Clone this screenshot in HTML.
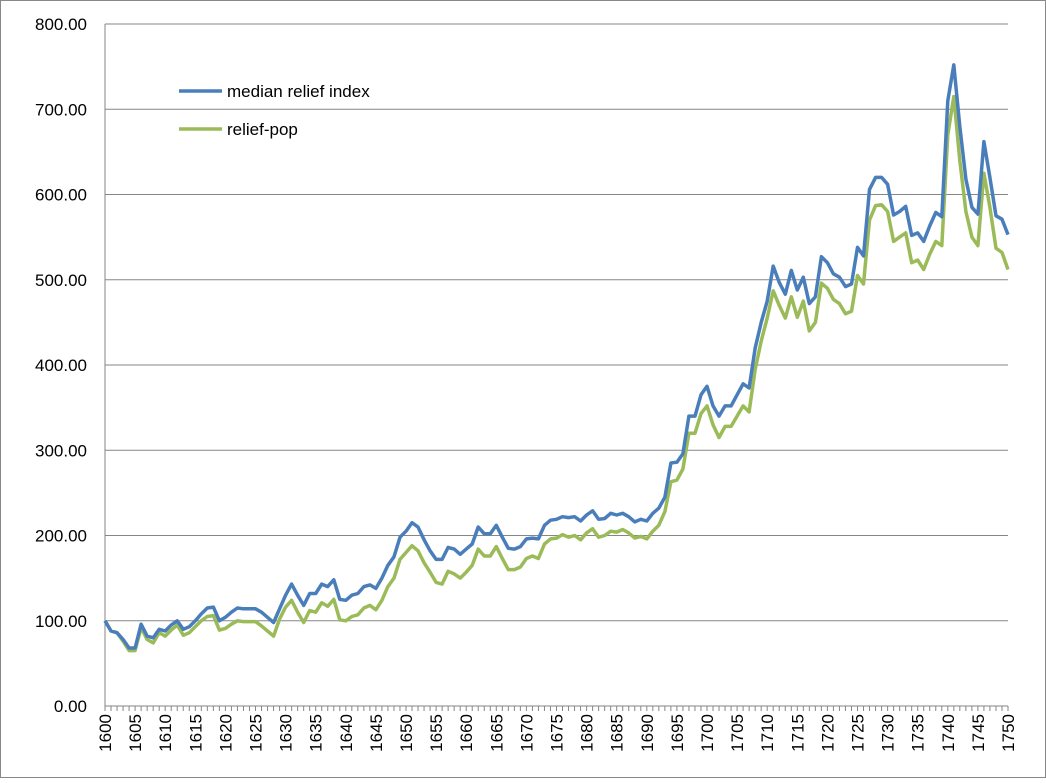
<!DOCTYPE html>
<html><head><meta charset="utf-8"><style>
body{margin:0;background:#fff}
svg text{font-family:"Liberation Sans",sans-serif;font-size:17px;fill:#000}
</style></head><body>
<svg id="s" width="1046" height="778" xmlns="http://www.w3.org/2000/svg">
<rect x="0.5" y="0.5" width="1045" height="777" fill="#fff" stroke="#888"/>
<g id="g"></g>
</svg>
<script>
var B=[100,88,86,78,68,68,96,82,80,90,88,95,100,90,93,100,108,115,116,100,104,110,115,114,114,114,110,104,98,114,130,143,130,118,132,132,143,140,148,125,124,130,132,140,142,138,150,165,175,198,205,215,210,195,182,172,172,186,184,178,184,190,210,202,202,212,198,185,184,187,196,197,196,212,218,219,222,221,222,217,224,229,219,220,226,224,226,222,216,219,217,226,232,245,285,286,296,340,340,365,375,352,340,352,352,365,378,373,420,450,475,516,497,483,511,488,503,472,480,527,520,507,503,492,495,538,528,606,620,620,612,576,580,586,552,555,545,563,579,574,710,752,680,618,585,577,662,620,575,571,553];
var G=[100,88,86,76,65,65,92,78,74,86,82,89,95,83,86,93,100,105,106,89,91,96,100,99,99,99,94,88,82,102,116,124,110,98,112,110,121,117,125,101,100,105,107,115,118,113,124,140,150,172,180,188,182,168,157,145,143,158,155,150,157,165,184,176,176,187,173,160,160,163,173,176,173,190,196,197,201,198,200,195,203,208,198,200,205,204,207,203,197,199,196,205,212,228,263,265,278,320,320,343,352,330,315,328,328,340,352,345,395,428,455,487,470,455,480,456,475,440,450,496,490,477,472,460,463,505,495,570,587,588,580,545,550,555,520,523,512,530,545,540,670,715,640,580,550,540,625,585,537,532,512];
var x0=105,dx=(1008-105)/150,y0=706,k=(706-24)/800;
var h='';
for(var v=0;v<=800;v+=100){var y=y0-v*k;
 if(v>0)h+='<line x1="'+x0+'" x2="1008" y1="'+y+'" y2="'+y+'" stroke="#868686" stroke-width="1"/>';
 h+='<text x="87" y="'+(y+6)+'" text-anchor="end">'+v.toFixed(2)+'</text>';}
h+='<line x1="'+x0+'" x2="'+x0+'" y1="24" y2="711" stroke="#868686"/>';
h+='<line x1="'+x0+'" x2="1008" y1="706" y2="706" stroke="#868686"/>';
for(var i=0;i<=150;i++){var x=x0+i*dx;h+='<line x1="'+x+'" x2="'+x+'" y1="706" y2="711" stroke="#868686"/>';
 if(i%5==0)h+='<text transform="translate('+(x+6)+',714) rotate(-90)" text-anchor="end">'+(1600+i)+'</text>';}
function p(a,c){var s='';for(var i=0;i<a.length;i++)s+=(x0+i*dx).toFixed(1)+','+(y0-a[i]*k).toFixed(1)+' ';
 return '<polyline points="'+s+'" fill="none" stroke="'+c+'" stroke-width="3.5" stroke-linejoin="round"/>';}
h+=p(G,'#9bbb59')+p(B,'#4a7ebb');
h+='<line x1="179" x2="222" y1="91" y2="91" stroke="#4a7ebb" stroke-width="3.5"/><text x="227" y="97">median relief index</text>';
h+='<line x1="179" x2="222" y1="129" y2="129" stroke="#9bbb59" stroke-width="3.5"/><text x="227" y="135">relief-pop</text>';
document.getElementById('g').innerHTML=h;
</script>
</body></html>
